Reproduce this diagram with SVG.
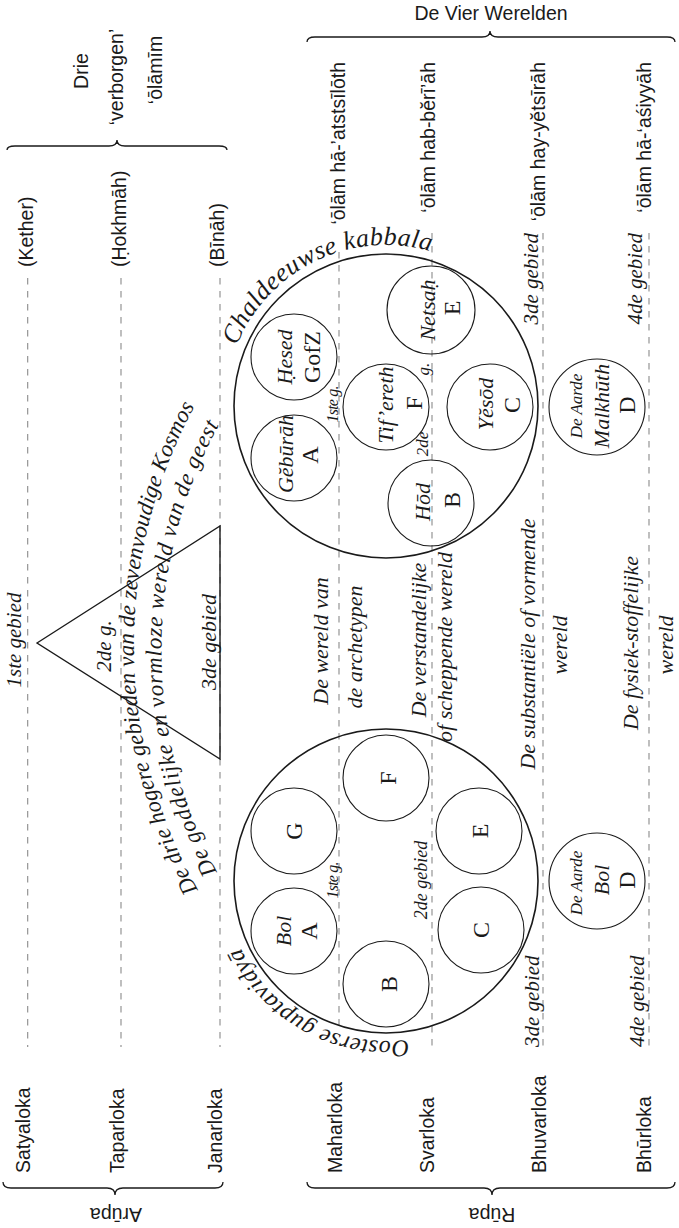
<svg xmlns="http://www.w3.org/2000/svg" width="679" height="1228" viewBox="0 0 679 1228">
<style>
.sans{font-family:"Liberation Sans","DejaVu Sans",Arial,sans-serif;font-size:19.5px;fill:#1a1a1a}
.it{font-family:"Liberation Serif","DejaVu Serif",serif;font-style:italic;fill:#1a1a1a}
.rm{font-family:"Liberation Serif","DejaVu Serif",serif;fill:#1a1a1a;font-size:24px}
.dash{stroke:#8a8a8a;stroke-width:1.1;stroke-dasharray:6.5 6.5;fill:none}
.big{fill:none;stroke:#1a1a1a;stroke-width:1.6}
.small{fill:none;stroke:#1a1a1a;stroke-width:1.1}
.brace{fill:none;stroke:#1a1a1a;stroke-width:1.3}
.m{text-anchor:middle}
.e{text-anchor:end}
</style>
<defs>
<path id="arcK" d="M 236.7,345.7 A 161 161 0 0 1 430.4,251.2"/>
<path id="arcO" d="M 408.3,1039.4 A 160 160 0 0 1 239.8,946.1"/>
<path id="arcL1" d="M 198,890 A 500 500 0 0 1 198,400"/>
<path id="arcL2" d="M 217,872 A 470 470 0 0 1 219,425"/>
</defs>
<rect width="679" height="1228" fill="#fff"/>

<g id="connectors">
<line class="dash" x1="27.7" y1="278" x2="27.7" y2="1047"/>
<line class="dash" x1="121" y1="278" x2="121" y2="1047"/>
<line class="dash" x1="220" y1="278" x2="220" y2="1047"/>
<line class="dash" x1="339" y1="252" x2="339" y2="1030"/>
<line class="dash" x1="432" y1="233" x2="432" y2="1047"/>
<line class="dash" x1="543" y1="233" x2="543" y2="1047"/>
<line class="dash" x1="649" y1="233" x2="649" y2="1047"/>
</g>

<g id="braces">
<path class="brace" d="M7,150 Q7,146 15,146 L109,146 Q117,146 117,140 Q117,146 125,146 L219,146 Q227,146 227,150"/>
<path class="brace" d="M307,42 Q307,37 315,37 L482,37 Q490,37 490,31 Q490,37 498,37 L667,37 Q675,37 675,42"/>
<path class="brace" d="M3,1182 Q3,1188 11,1188 L107,1188 Q115,1188 115,1195 Q115,1188 123,1188 L215,1188 Q223,1188 223,1182"/>
<path class="brace" d="M307,1182 Q307,1188 315,1188 L484,1188 Q492,1188 492,1195 Q492,1188 500,1188 L667,1188 Q675,1188 675,1182"/>
</g>

<g id="header-labels">
<text class="sans m" x="491" y="20">De Vier Werelden</text>
<text class="sans m" transform="translate(88,71) rotate(-90)">Drie</text>
<text class="sans m" transform="translate(123,77) rotate(-90)">‘verborgen’</text>
<text class="sans m" transform="translate(162,70) rotate(-90)">‘ōlāmīm</text>
<text class="sans" transform="translate(33,267) rotate(-90)">(Kether)</text>
<text class="sans" transform="translate(126,267) rotate(-90)">(Ḥokhmāh)</text>
<text class="sans" transform="translate(224,267) rotate(-90)">(Bīnāh)</text>
<text class="sans e" transform="translate(345,62) rotate(-90)">‘ōlām hā-’atstsīlōth</text>
<text class="sans e" transform="translate(435,62) rotate(-90)">‘ōlām hab-bĕrī’āh</text>
<text class="sans e" transform="translate(545,62) rotate(-90)">‘ōlām hay-yĕtsīrāh</text>
<text class="sans e" transform="translate(651,62) rotate(-90)">‘ōlām hā-‘aśiyyāh</text>
</g>

<g id="loka-labels">
<text class="sans" transform="translate(30,1173) rotate(-90)">Satyaloka</text>
<text class="sans" transform="translate(124,1173) rotate(-90)">Taparloka</text>
<text class="sans" transform="translate(222,1173) rotate(-90)">Janarloka</text>
<text class="sans" transform="translate(342,1173) rotate(-90)">Maharloka</text>
<text class="sans" transform="translate(434,1173) rotate(-90)">Svarloka</text>
<text class="sans" transform="translate(546,1173) rotate(-90)">Bhuvarloka</text>
<text class="sans" transform="translate(651,1173) rotate(-90)">Bhūrloka</text>
<text class="sans m" transform="translate(116,1208) rotate(180)">Arūpa</text>
<text class="sans m" transform="translate(492,1208) rotate(180)">Rūpa</text>
</g>

<g id="triangle">
<polygon points="37,643 220,526 220,759" fill="none" stroke="#1a1a1a" stroke-width="1.4"/>
<text class="it m" font-size="21" transform="translate(21,640) rotate(-90)">1ste gebied</text>
<text class="it m" font-size="21" transform="translate(111,646) rotate(-90)">2de g.</text>
<text class="it m" font-size="22" transform="translate(216,642) rotate(-90)">3de gebied</text>
</g>

<g id="arc-texts">
<text class="it" font-size="23"><textPath href="#arcL1" textLength="505">De drie hogere gebieden van de zevenvoudige Kosmos</textPath></text>
<text class="it" font-size="23"><textPath href="#arcL2" textLength="466">De goddelijke en vormloze wereld van de geest</textPath></text>
</g>

<g id="world-labels">
<text class="it m" font-size="22" transform="translate(328,641) rotate(-90)">De wereld van</text>
<text class="it m" font-size="22" transform="translate(362,647) rotate(-90)">de archetypen</text>
<text class="it m" font-size="22" transform="translate(426,640) rotate(-90)">De verstandelijke</text>
<text class="it m" font-size="22" transform="translate(452,647) rotate(-90)">of scheppende wereld</text>
<text class="it m" font-size="22" transform="translate(535,644) rotate(-90)">De substantiële of vormende</text>
<text class="it m" font-size="22" transform="translate(567,645) rotate(-90)">wereld</text>
<text class="it m" font-size="22" transform="translate(638,643) rotate(-90)">De fysiek-stoffelijke</text>
<text class="it m" font-size="22" transform="translate(673,645) rotate(-90)">wereld</text>
<text class="it e" font-size="21" transform="translate(538,233) rotate(-90)">3de gebied</text>
<text class="it e" font-size="21" transform="translate(642,233) rotate(-90)">4de gebied</text>
<text class="it" font-size="21" transform="translate(539,1047) rotate(-90)">3de gebied</text>
<text class="it" font-size="21" transform="translate(644,1047) rotate(-90)">4de gebied</text>
</g>

<g id="oosterse">
<circle class="big" cx="386" cy="881" r="152"/>
<text class="it" font-size="24"><textPath href="#arcO" textLength="205">Oosterse guptavidyā</textPath></text>
<text class="it m" font-size="16" textLength="37" transform="translate(338,880) rotate(-90)">1ste g.</text>
<text class="it m" font-size="18" transform="translate(427,880) rotate(-90)">2de gebied</text>
</g>
<g id="o-A"><circle class="small" cx="294" cy="931" r="43"/>
<text class="it m" font-size="22" transform="translate(291,931) rotate(-90)">Bol</text>
<text class="rm m" transform="translate(317,931) rotate(-90)">A</text></g>
<g id="o-G"><circle class="small" cx="294" cy="831" r="43"/>
<text class="rm m" transform="translate(302,831) rotate(-90)">G</text></g>
<g id="o-F"><circle class="small" cx="386" cy="778" r="43"/>
<text class="rm m" transform="translate(396,778) rotate(-90)">F</text></g>
<g id="o-E"><circle class="small" cx="479" cy="831" r="43"/>
<text class="rm m" transform="translate(488,831) rotate(-90)">E</text></g>
<g id="o-C"><circle class="small" cx="481" cy="930" r="43"/>
<text class="rm m" transform="translate(489,930) rotate(-90)">C</text></g>
<g id="o-B"><circle class="small" cx="386" cy="984" r="43"/>
<text class="rm m" transform="translate(397,984) rotate(-90)">B</text></g>
<g id="o-D"><circle class="small" cx="597" cy="881" r="48"/>
<text class="it m" font-size="17" transform="translate(582,883) rotate(-90)">De Aarde</text>
<text class="it m" font-size="22" transform="translate(609,880) rotate(-90)">Bol</text>
<text class="rm m" transform="translate(635,880) rotate(-90)">D</text></g>

<g id="kabbala">
<circle class="big" cx="386" cy="406" r="152"/>
<text class="it" font-size="26"><textPath href="#arcK" textLength="236">Chaldeeuwse kabbala</textPath></text>
<text class="it m" font-size="16" textLength="37" transform="translate(338,404) rotate(-90)">1ste g.</text>
<text class="it m" font-size="17" transform="translate(428,444) rotate(-90)">2de</text>
<text class="it m" font-size="17" transform="translate(429,369) rotate(-90)">g.</text>
</g>
<g id="k-A"><circle class="small" cx="294" cy="458" r="43"/>
<text class="it m" font-size="22" transform="translate(293,454) rotate(-90)">Gĕbūrāh</text>
<text class="rm m" transform="translate(318,455) rotate(-90)">A</text></g>
<g id="k-GofZ"><circle class="small" cx="294" cy="357" r="43"/>
<text class="it m" font-size="22" transform="translate(292,357) rotate(-90)">Ḥesed</text>
<text class="rm m" font-size="22" transform="translate(320,357) rotate(-90)">GofZ</text></g>
<g id="k-F"><circle class="small" cx="386" cy="407" r="43"/>
<text class="it m" font-size="22" transform="translate(393,405) rotate(-90)">Tif’ereth</text>
<text class="rm m" transform="translate(422,403) rotate(-90)">F</text></g>
<g id="k-E"><circle class="small" cx="431" cy="310" r="44"/>
<text class="it m" font-size="22" transform="translate(435,310) rotate(-90)">Netsaḥ</text>
<text class="rm m" transform="translate(460,308) rotate(-90)">E</text></g>
<g id="k-B"><circle class="small" cx="431" cy="503" r="43"/>
<text class="it m" font-size="22" transform="translate(430,502) rotate(-90)">Hōd</text>
<text class="rm m" transform="translate(460,500) rotate(-90)">B</text></g>
<g id="k-C"><circle class="small" cx="490" cy="407" r="43"/>
<text class="it m" font-size="22" transform="translate(493,404) rotate(-90)">Yĕsōd</text>
<text class="rm m" transform="translate(520,405) rotate(-90)">C</text></g>
<g id="k-D"><circle class="small" cx="597" cy="407" r="48"/>
<text class="it m" font-size="17" transform="translate(582,406) rotate(-90)">De Aarde</text>
<text class="it m" font-size="22" transform="translate(609,406) rotate(-90)">Malkhūth</text>
<text class="rm m" transform="translate(635,405) rotate(-90)">D</text></g>
</svg>
